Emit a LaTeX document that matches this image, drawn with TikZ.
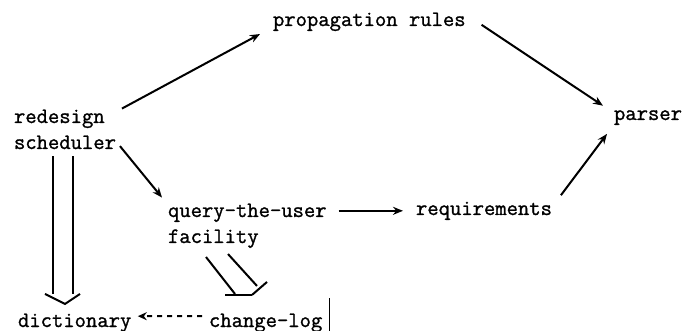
\documentclass[tikz,border=0pt]{standalone}
\usepackage{fontspec}
\setmonofont{Latin Modern Mono}[FakeBold=1.2]
\usetikzlibrary{arrows.meta,calc}
\begin{document}
\begin{tikzpicture}[x=1pt,y=-1pt,line width=2pt,
  lbl/.style={font=\fontsize{22}{26}\selectfont\ttfamily,inner sep=0pt,anchor=base west,align=left},
  arr/.style={-{Stealth[length=10pt,width=8pt]}},
  dasharr/.style={dash pattern=on 5pt off 5pt,-{Stealth[length=9pt,width=8pt]}}]
\useasboundingbox (0,0) rectangle (683,331);
\node[lbl] (prop) at (272,26) {propagation rules};
\node[lbl] (sched) at (13,149) {redesign\\scheduler};
\node[lbl] (parser) at (613,120) {parser};
\node[lbl] (query) at (167,243) {query-the-user\\facility};
\node[lbl] (req) at (415,215) {requirements};
\node[lbl] (dict) at (17,327) {dictionary};
\node[lbl] (log) at (208,327) {change-log};
% single arrows
\draw[arr] ($(sched.north east)+(5,0)$) -- ($(prop.south west)+(-12,2)$);
\draw[arr] ($(sched.south east)+(3,-4)$) -- ($(query.north west)+(-5,-5)$);
\draw[arr] ($(prop.east)+(15,3)$) -- ($(parser.north west)+(-10,-3.6)$);
\draw[arr] ($(req.north east)+(8,-5.6)$) -- ($(parser.south west)+(-6,8)$);
\draw[arr] ($(req.west -| query.east)+(11,0)$) -- ($(req.west)+(-12,0)$);
% double arrow scheduler -> dictionary
\draw ($(sched.south west)+(40,6)$) -- ($(dict.north west)+(36,-18.6)$);
\draw ($(sched.south west)+(60,6)$) -- ($(dict.north west)+(56,-18.6)$);
\draw[line join=miter] ($(dict.north west)+(28,-18.6)$) -- ($(dict.north west)+(48,-8.6)$) -- ($(dict.north west)+(63,-18.6)$);
% double arrow query -> change-log
\draw ($(query.south west)+(39,8)$) -- ($(log.north west)+(27,-18.6)$);
\draw ($(query.south west)+(61,5)$) -- ($(log.north west)+(49,-26.6)$);
\draw[line width=2.6pt] ($(log.north west)+(17,-17.6)$) -- ($(log.north west)+(44,-17.6)$);
\draw ($(log.north west)+(44,-17.6)$) -- ($(log.north west)+(59,-30.6)$);
% dashed arrow change-log -> dictionary
\draw[dasharr] ($(log.west)+(-6,-6.6)$) -- ($(dict.east)+(5.5,-6.6)$);
% vertical bar
\draw[line width=1.2pt] ($(log.south east)+(6.5,0)$) -- ++(0,-35);
\end{tikzpicture}
\end{document}
